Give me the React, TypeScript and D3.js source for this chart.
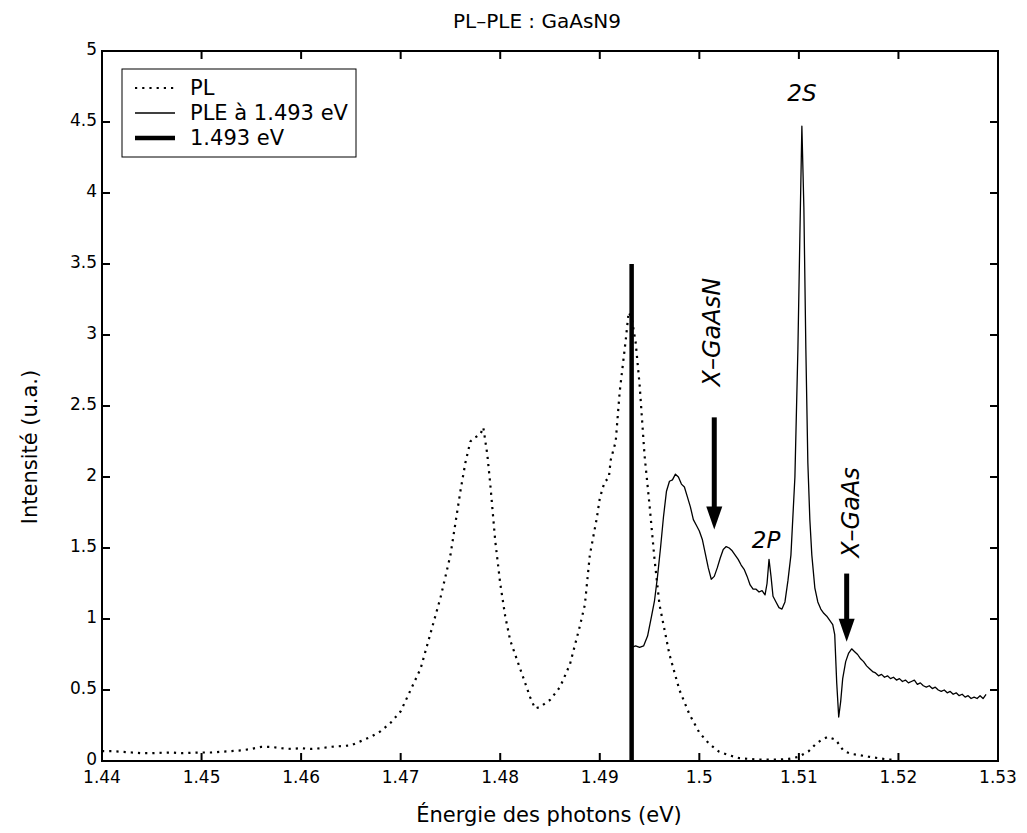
import React from 'react'
import {scaleLinear, line} from 'd3'

// PL-PLE spectrum, GaAsN9 sample

const xTicks = [1.44, 1.45, 1.46, 1.47, 1.48, 1.49, 1.5, 1.51, 1.52, 1.53]
const yTicks = [0, 0.5, 1, 1.5, 2, 2.5, 3, 3.5, 4, 4.5, 5]

// PL (dotted)
const plE = [1.440, 1.441, 1.442, 1.443, 1.444, 1.445, 1.446, 1.447, 1.448, 1.449, 1.450, 1.451, 1.452, 1.453, 1.454, 1.455, 1.456, 1.457, 1.458, 1.459, 1.460, 1.461, 1.462, 1.463, 1.464, 1.465, 1.466, 1.467, 1.468, 1.469, 1.470, 1.471, 1.472, 1.473, 1.474, 1.475, 1.476, 1.4765, 1.477, 1.4775, 1.478, 1.4783, 1.4787, 1.479, 1.4795, 1.480, 1.4805, 1.481, 1.482, 1.483, 1.4835, 1.484, 1.485, 1.486, 1.487, 1.488, 1.4885, 1.489, 1.4897, 1.490, 1.4905, 1.4909, 1.4911, 1.4916, 1.492, 1.4926, 1.4929, 1.4932, 1.4936, 1.494, 1.4945, 1.495, 1.4955, 1.496, 1.497, 1.498, 1.499, 1.500, 1.501, 1.502, 1.503, 1.504, 1.505, 1.506, 1.507, 1.508, 1.509, 1.510, 1.511, 1.5117, 1.5123, 1.5129, 1.5137, 1.5145, 1.5153, 1.5162, 1.517, 1.518, 1.519, 1.5195]
const plI = [0.07, 0.07, 0.065, 0.06, 0.055, 0.055, 0.058, 0.06, 0.055, 0.058, 0.06, 0.06, 0.065, 0.07, 0.075, 0.085, 0.1, 0.1, 0.09, 0.085, 0.09, 0.085, 0.09, 0.1, 0.105, 0.11, 0.14, 0.17, 0.21, 0.27, 0.35, 0.5, 0.65, 0.9, 1.15, 1.45, 1.9, 2.1, 2.25, 2.28, 2.3, 2.35, 2.16, 1.95, 1.55, 1.25, 1.02, 0.85, 0.65, 0.45, 0.37, 0.38, 0.43, 0.52, 0.68, 0.95, 1.1, 1.45, 1.71, 1.85, 1.97, 1.99, 2.12, 2.25, 2.6, 2.96, 3.16, 3.12, 2.95, 2.65, 2.15, 1.8, 1.42, 1.1, 0.75, 0.5, 0.33, 0.2, 0.12, 0.065, 0.04, 0.02, 0.015, 0.01, 0.01, 0.01, 0.015, 0.03, 0.07, 0.12, 0.15, 0.17, 0.15, 0.07, 0.05, 0.04, 0.03, 0.02, 0.01, 0.01]

// PLE detected at 1.493 eV (thin solid)
const pleE = [1.4932, 1.4936, 1.4940, 1.4944, 1.4948, 1.4952, 1.4955, 1.4958, 1.4961, 1.4964, 1.4967, 1.4970, 1.4973, 1.4976, 1.4979, 1.4982, 1.4985, 1.4988, 1.4991, 1.4994, 1.4997, 1.5000, 1.5003, 1.5006, 1.5009, 1.5012, 1.5015, 1.5018, 1.5021, 1.5024, 1.5027, 1.5030, 1.5033, 1.5036, 1.5039, 1.5042, 1.5045, 1.5048, 1.5051, 1.5054, 1.5057, 1.5060, 1.5063, 1.5066, 1.5068, 1.5070, 1.5072, 1.5074, 1.5077, 1.5080, 1.5083, 1.5086, 1.5089, 1.5092, 1.5096, 1.5099, 1.5101, 1.5103, 1.5105, 1.5107, 1.5109, 1.5111, 1.5113, 1.5116, 1.5119, 1.5122, 1.5125, 1.5128, 1.5131, 1.5134, 1.5136, 1.5138, 1.5140, 1.5142, 1.5144, 1.5147, 1.5150, 1.5153, 1.5156, 1.5159, 1.5162, 1.5165, 1.5168, 1.5171, 1.5174, 1.5177, 1.5180, 1.5183, 1.5186, 1.5189, 1.5192, 1.5195, 1.5198, 1.5201, 1.5204, 1.5207, 1.5210, 1.5213, 1.5216, 1.5219, 1.5222, 1.5225, 1.5228, 1.5231, 1.5234, 1.5237, 1.5240, 1.5243, 1.5246, 1.5249, 1.5252, 1.5255, 1.5258, 1.5261, 1.5264, 1.5267, 1.5270, 1.5273, 1.5276, 1.5279, 1.5282, 1.5285, 1.5288]
const pleI = [0.80, 0.81, 0.80, 0.81, 0.88, 1.02, 1.13, 1.30, 1.50, 1.72, 1.90, 1.97, 1.98, 2.02, 2.00, 1.95, 1.93, 1.86, 1.79, 1.70, 1.66, 1.62, 1.56, 1.46, 1.36, 1.28, 1.30, 1.36, 1.43, 1.49, 1.51, 1.50, 1.48, 1.45, 1.42, 1.38, 1.35, 1.30, 1.24, 1.21, 1.21, 1.19, 1.20, 1.17, 1.25, 1.42, 1.30, 1.16, 1.12, 1.08, 1.07, 1.12, 1.27, 1.45, 2.0, 2.9, 3.7, 4.47, 3.9, 2.9, 2.1, 1.7, 1.45, 1.22, 1.12, 1.07, 1.04, 1.02, 0.99, 0.96, 0.89, 0.55, 0.31, 0.42, 0.58, 0.70, 0.76, 0.79, 0.77, 0.75, 0.72, 0.70, 0.67, 0.65, 0.63, 0.62, 0.60, 0.61, 0.59, 0.60, 0.58, 0.59, 0.57, 0.58, 0.56, 0.57, 0.55, 0.56, 0.57, 0.54, 0.55, 0.53, 0.52, 0.53, 0.51, 0.52, 0.50, 0.49, 0.50, 0.48, 0.49, 0.47, 0.48, 0.46, 0.47, 0.45, 0.46, 0.44, 0.45, 0.44, 0.46, 0.44, 0.47]

// detection energy marker
const detE = 1.4932
const detTop = 3.5

// annotations
const labels = [
  {text: '2S', x: 1.5103, y: 4.65, rotate: false},
  {text: '2P', x: 1.5067, y: 1.5, rotate: false},
  {text: 'X\u2013GaAsN', x: 1.5021, y: 3.02, rotate: true},
  {text: 'X\u2013GaAs', x: 1.5160, y: 1.75, rotate: true},
]
const arrows = [
  {x: 1.5015, from: 2.42, to: 1.63},
  {x: 1.5148, from: 1.32, to: 0.84},
]

const legendItems = ['PL', 'PLE \u00e0 1.493 eV', '1.493 eV']

export default function App() {
  const width = 1027, height = 833
  const margin = {top: 51, right: 29, bottom: 72, left: 102}

  const x = scaleLinear().domain([1.44, 1.53]).range([margin.left, width - margin.right])
  const y = scaleLinear().domain([0, 5]).range([height - margin.bottom, margin.top])

  const x0 = x(1.44), x1 = x(1.53), y0 = y(0), y1 = y(5)

  const pathGen = line<[number, number]>().x(d => x(d[0])).y(d => y(d[1]))
  const plPath = pathGen(plE.map((e, i) => [e, plI[i]] as [number, number])) || ''
  const plePath = pathGen(pleE.map((e, i) => [e, pleI[i]] as [number, number])) || ''

  const font = '"DejaVu Sans", sans-serif'
  const tk = 8

  const fmt = (v: number) => String(v)

  return (
    <div style={{position: 'absolute', left: 0, top: 0}}>
      <svg width={width} height={height} style={{display: 'block', background: '#fff'}} fontFamily={font}>
        {/* title */}
        <text x={537} y={28} textAnchor="middle" fontSize={20}>PL–PLE : GaAsN9</text>

        {/* data */}
        <path d={plPath} fill="none" stroke="#000" strokeWidth={2.2} strokeDasharray="2.2,5" />
        <path d={plePath} fill="none" stroke="#000" strokeWidth={1.3} strokeLinejoin="round" />
        <line x1={x(detE)} x2={x(detE)} y1={y(0)} y2={y(detTop)} stroke="#000" strokeWidth={4.5} />

        {/* arrows */}
        {arrows.map((a, i) => (
          <g key={i}>
            <line x1={x(a.x)} x2={x(a.x)} y1={y(a.from)} y2={y(a.to) - 18} stroke="#000" strokeWidth={5} />
            <path d={`M${x(a.x) - 8},${y(a.to) - 23} L${x(a.x) + 8},${y(a.to) - 23} L${x(a.x)},${y(a.to)} Z`} fill="#000" />
          </g>
        ))}

        {/* annotation labels */}
        {labels.map((l, i) => l.rotate ? (
          <text key={i} transform={`translate(${x(l.x)},${y(l.y)}) rotate(-90)`} textAnchor="middle"
            fontSize={24} fontStyle="italic">{l.text}</text>
        ) : (
          <text key={i} x={x(l.x)} y={y(l.y)} textAnchor="middle" fontSize={23} fontStyle="italic">{l.text}</text>
        ))}

        {/* axes box */}
        <rect x={x0} y={y1} width={x1 - x0} height={y0 - y1} fill="none" stroke="#000" strokeWidth={2} />

        {/* x ticks */}
        {xTicks.map(t => (
          <g key={'x' + t}>
            <line x1={x(t)} x2={x(t)} y1={y0} y2={y0 - tk} stroke="#000" strokeWidth={2} />
            <line x1={x(t)} x2={x(t)} y1={y1} y2={y1 + tk} stroke="#000" strokeWidth={2} />
            <text x={x(t)} y={y0 + 22} textAnchor="middle" fontSize={17}>{fmt(t)}</text>
          </g>
        ))}

        {/* y ticks */}
        {yTicks.map(t => (
          <g key={'y' + t}>
            <line x1={x0} x2={x0 + tk} y1={y(t)} y2={y(t)} stroke="#000" strokeWidth={2} />
            <line x1={x1} x2={x1 - tk} y1={y(t)} y2={y(t)} stroke="#000" strokeWidth={2} />
            <text x={x0 - 5} y={y(t) + 4} textAnchor="end" fontSize={17}>{fmt(t)}</text>
          </g>
        ))}

        {/* axis labels */}
        <text x={549} y={822} textAnchor="middle" fontSize={21}>Énergie des photons (eV)</text>
        <text transform="translate(37,447) rotate(-90)" textAnchor="middle" fontSize={21}>Intensité (u.a.)</text>

        {/* legend */}
        <g>
          <rect x={122} y={69} width={234} height={88} fill="#fff" stroke="#000" strokeWidth={1} />
          {legendItems.map((t, i) => {
            const ly = 88 + i * 25
            return (
              <g key={t}>
                <line x1={135} x2={175} y1={ly} y2={ly} stroke="#000"
                  strokeWidth={i === 0 ? 2.2 : i === 1 ? 1.3 : 4.5}
                  strokeDasharray={i === 0 ? '2.2,5' : undefined} />
                <text x={190} y={ly + 7} fontSize={21}>{t}</text>
              </g>
            )
          })}
        </g>
      </svg>
    </div>
  )
}
